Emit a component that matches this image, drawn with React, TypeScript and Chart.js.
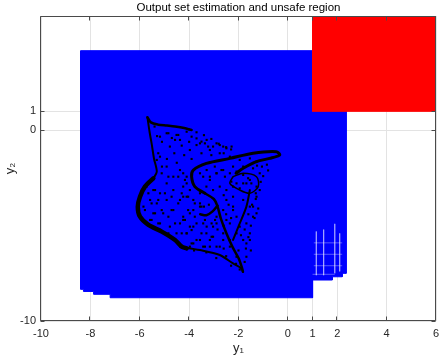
import React, { useEffect, useRef } from 'react';
import { Chart, registerables } from 'chart.js';

Chart.register(...registerables);

const FONT = "'Liberation Sans', Arial, Helvetica, sans-serif";

const titleText = 'Output set estimation and unsafe region';
const xLabel = 'y₁';
const yLabel = 'y₂';

const xTickValues = [-10, -8, -6, -4, -2, 0, 1, 2, 4, 6];
const yTickValues = [-10, 0, 1];

// Output set estimation (union of boxes) outline
const outputSetX = [-8.4, 2.36, 2.36, 2.2, 2.2, 1.8, 1.8, 1.0, 1.0, -7.2, -7.2, -7.87, -7.87, -8.28, -8.28, -8.4, -8.4];
const outputSetY = [4.18, 4.18, -7.5, -7.5, -7.68, -7.68, -7.85, -7.85, -8.78, -8.78, -8.6, -8.6, -8.45, -8.45, -8.34, -8.34, 4.18];

// Gaps between the boxes in the lower right part
const boxGapSegments: number[][][] = [
  [[1.15, -5.3], [1.15, -7.6]],
  [[1.45, -5.2], [1.45, -7.6]],
  [[1.9, -4.9], [1.9, -7.5]],
  [[2.1, -5.4], [2.1, -7.4]],
  [[1.05, -5.9], [2.2, -5.9]],
  [[1.05, -6.5], [2.2, -6.5]],
  [[1.05, -7.1], [2.2, -7.1]],
  [[1.0, -7.55], [1.9, -7.55]],
];

// Unsafe region
const unsafeX = [1, 6, 6, 1, 1];
const unsafeY = [1, 1, 6, 6, 1];

// Dense parts of the sampled output trajectories
const curveSpike = [[-5.69, 0.69], [-5.6, -0.1], [-5.52, -0.68], [-5.42, -1.5], [-5.31, -2.17], [-5.45, -2.52]];
const curveTopEdge = [[-5.69, 0.69], [-5.55, 0.42], [-5.25, 0.3], [-4.9, 0.25], [-4.57, 0.2], [-4.2, 0.12], [-3.9, 0.02]];
const curveLowerLeft = [[-5.45, -2.52], [-5.79, -2.95], [-5.99, -3.48], [-6.08, -4.0], [-5.99, -4.53], [-5.65, -4.96], [-5.11, -5.31], [-4.57, -5.75], [-4.3, -6.1], [-4.1, -6.19]];
const curveWing = [[-3.36, -3.3], [-3.77, -2.95], [-3.9, -2.43], [-3.83, -2.08], [-3.3, -1.73], [-2.35, -1.47], [-1.41, -1.2], [-0.47, -1.12], [-0.33, -1.29], [-0.74, -1.47], [-1.27, -1.64], [-1.81, -1.99], [-2.1, -2.25]];
const curveDiagonal = [[-3.36, -3.3], [-3.0, -3.6], [-2.86, -3.95], [-2.72, -4.6], [-2.49, -5.4], [-2.25, -6.1], [-2.0, -6.7], [-1.85, -7.25], [-1.82, -7.42]];
const curveCross = [[-1.54, -3.13], [-1.68, -4.0], [-1.95, -4.88], [-2.22, -5.75]];
const curveLoop = [[-2.22, -2.43], [-1.81, -2.25], [-1.27, -2.43], [-1.2, -2.95], [-1.54, -3.3], [-1.95, -3.13], [-2.35, -2.78], [-2.22, -2.43]];
const curveArc = [[-3.55, -4.4], [-3.3, -4.45], [-3.05, -4.25], [-2.85, -3.95]];
const curveBottom = [[-4.37, -6.1], [-3.56, -6.28], [-2.76, -6.54], [-2.22, -6.98], [-1.88, -7.24], [-1.82, -7.42]];

// Sparse samples
const sampleX = [
  -4.0, -3.7, -3.4, -3.1, -2.8, -2.5, -2.3,
  -4.91, -4.51, -4.10, -3.70, -3.29, -2.89, -2.62, -3.56, -4.37, -5.18, -4.78, -3.97, -3.16, -2.76, -2.35, -5.18, -4.91, -4.37, -4.64, -4.10,
  -1.95, -1.54, -1.27, -1.81, -1.41, -1.14, -2.08, -1.68, -1.27, -2.22, -1.81, -1.54, -1.27, -2.49, -2.76, -2.89, -3.16, -2.35,
  -5.72, -5.45, -5.18, -5.58, -5.31, -4.91, -5.85, -5.45, -5.05, -4.64, -5.58, -5.18, -4.78, -4.37, -4.85, -4.51, -4.10, -3.97, -4.24, -3.83, -4.37, -4.10, -4.64, -4.91, -4.24,
  -3.56, -3.70, -3.29, -3.03, -3.56, -3.83, -3.16, -2.76, -2.62, -2.89, -2.35, -2.08, -1.68, -1.68, -1.54, -1.95, -2.49, -2.22,
  -2.22, -2.08, -1.81, -1.61, -1.48, -2.29, -1.95, -2.55, -2.69, -2.96, -3.29, -3.56,
  -3.70, -3.36, -3.03, -2.76, -2.49, -2.28, -4.24, -4.10, -3.97, -4.24, -3.83, -3.56, -3.30, -3.03, -3.16, -3.43, -2.89, -2.62,
  -3.56, -3.97, -4.24, -3.83, -4.10, -3.70, -3.30, -3.03, -3.43, -2.89, -3.16, -3.97, -3.43, -2.89, -2.62, -2.35, -2.08, -1.81, -1.54,
  -1.68, -1.41, -1.41, -1.27, -1.14, -2.49, -2.22, -2.08, -2.35, -2.62, -1.81, -1.54, -2.22,
  -4.84, -4.44, -3.90, -3.50, -3.23, -4.57, -5.31, -5.25, -5.11, -4.84, -4.44, -4.17, -5.65, -5.38, -5.52, -5.25, -4.98, -4.71, -4.30, -4.04,
  -5.79, -5.38, -5.11, -4.71, -4.44, -4.04, -3.77, -3.50, -5.52, -5.25, -4.84, -4.57, -4.17, -3.77, -3.36, -4.84, -4.30, -3.90, -3.50, -3.09,
  -3.90, -3.36, -3.09,
  -1.30, -1.45, -1.20, -1.35, -1.60, -1.50, -1.75, -1.60, -1.90, -1.70, -1.50, -2.00, -1.75, -2.10, -1.95, -1.30, -1.10, -1.00, -1.05, -0.85, -0.80, -1.25,
  -5.40, -5.30, -5.10, -4.70, -4.30, -4.00, -3.50, -3.10, -2.60, -4.60, -4.90, -5.10, -4.50, -4.20, -3.90,
  -2.60, -2.40, -2.50, -2.30, -2.60, -2.85, -2.95, -3.20, -3.40,
  -3.80, -3.30, -2.90, -2.50, -2.30, -2.60,
];
const sampleY = [
  0.05, -0.10, -0.25, -0.45, -0.70, -0.88, -1.00,
  -0.15, -0.24, -0.07, -0.42, -0.50, -0.68, -0.85, -0.68, -0.50, -0.33, -0.85, -1.03, -1.03, -1.20, -1.38, -1.38, -1.90, -2.08, -2.43, -2.43,
  -1.55, -1.47, -1.64, -1.90, -1.99, -2.25, -2.78, -2.78, -2.95, -3.48, -3.65, -4.00, -4.35, -3.13, -2.95, -2.25, -2.43, -2.25,
  -2.95, -3.13, -3.30, -3.65, -3.83, -3.65, -4.00, -4.35, -4.35, -4.18, -4.70, -4.88, -5.05, -4.88, -5.50, -5.40, -5.40, -5.05, -4.53, -4.18, -3.65, -3.48, -3.13, -2.78, -2.95,
  -3.83, -4.88, -5.05, -5.58, -5.75, -5.93, -6.10, -6.10, -5.40, -4.88, -5.75, -6.63, -6.63, -5.93, -5.40, -5.05, -4.70, -4.18,
  -1.90, -2.16, -2.34, -2.51, -2.78, -2.69, -3.04, -2.43, -2.08, -1.90, -2.08, -2.25,
  -0.77, -0.68, -0.85, -0.77, -0.94, -0.85, -2.25, -2.78, -3.13, -3.48, -3.65, -3.30, -2.95, -3.13, -2.60, -2.43, -2.25, -2.08,
  -4.00, -4.35, -4.70, -5.05, -5.40, -5.75, -5.40, -5.05, -4.88, -4.53, -5.75, -6.10, -6.10, -6.10, -5.75, -6.10, -5.40, -5.75, -5.75,
  -4.88, -4.53, -4.00, -3.48, -3.13, -3.65, -4.00, -4.53, -4.88, -4.18, -2.78, -2.60, -2.95,
  -0.15, -0.24, -0.33, -0.59, -0.85, -0.50, -1.55, -1.20, -2.25, -2.43, -2.43, -2.60, -3.30, -3.13, -3.83, -3.65, -3.30, -3.48, -3.30, -3.48,
  -4.18, -4.35, -4.18, -4.18, -3.83, -4.18, -3.83, -4.00, -4.70, -4.88, -4.53, -4.88, -4.70, -4.53, -4.70, -5.40, -5.40, -5.23, -5.40, -4.88,
  -5.93, -6.10, -5.58,
  -3.60, -3.90, -4.10, -4.60, -4.40, -5.00, -5.20, -5.60, -5.50, -6.20, -6.30, -6.30, -6.90, -7.00, -7.30, -3.30, -2.70, -2.40, -1.90, -1.80, -2.10, -1.85,
  0.20, -0.30, -0.60, -0.40, -0.80, -0.60, -1.20, -1.30, -1.20, -1.20, -1.50, -1.90, -1.70, -1.30, -1.50,
  -3.40, -3.90, -4.40, -4.60, -5.00, -5.20, -4.70, -3.90, -4.00,
  -6.30, -6.40, -6.70, -6.60, -7.10, -6.20,
];

const toPoints = (xs: number[], ys: number[]) => xs.map((x, i) => ({ x, y: ys[i] }));
const pairs = (arr: number[][]) => arr.map(([x, y]) => ({ x, y }));

const framePlugin = {
  id: 'matlabFrame',
  afterDatasetsDraw(chart: any) {
    const { ctx, chartArea: a, scales } = chart;
    const xs = scales.x;
    const ys = scales.y;
    const L = Math.round(a.left) - 0.5;
    const R = Math.round(a.right) - 0.5;
    const T = Math.round(a.top) + 0.5;
    const B = Math.round(a.bottom) - 0.5;
    ctx.save();
    ctx.strokeStyle = '#4a4a4a';
    ctx.lineWidth = 1;
    ctx.beginPath();
    ctx.rect(L, T, R - L, B - T);
    const tl = 4;
    xTickValues.forEach((v) => {
      const px = Math.round(xs.getPixelForValue(v)) - 0.5;
      ctx.moveTo(px, B);
      ctx.lineTo(px, B - tl);
      ctx.moveTo(px, T);
      ctx.lineTo(px, T + tl);
    });
    yTickValues.forEach((v) => {
      const py = Math.round(ys.getPixelForValue(v)) + 0.5;
      ctx.moveTo(L, py);
      ctx.lineTo(L + tl, py);
      ctx.moveTo(R, py);
      ctx.lineTo(R - tl, py);
    });
    ctx.stroke();
    // title, centred over the axes
    ctx.fillStyle = '#000000';
    ctx.font = `11.5px ${FONT}`;
    ctx.textAlign = 'center';
    ctx.textBaseline = 'middle';
    ctx.fillText(titleText, (a.left + a.right) / 2, 8);
    ctx.restore();
  },
};

export default function App() {
  const canvasRef = useRef<HTMLCanvasElement | null>(null);

  useEffect(() => {
    if (!canvasRef.current) return;

    const curve = (pts: number[][], width: number, order: number) => ({
      data: pairs(pts),
      showLine: true,
      borderColor: '#000000',
      backgroundColor: '#000000',
      borderWidth: width,
      pointRadius: 0,
      tension: 0.3,
      fill: false,
      order,
      borderCapStyle: 'round',
      borderJoinStyle: 'round',
    });

    const datasets: any[] = [
      {
        data: toPoints(outputSetX, outputSetY),
        showLine: true,
        borderColor: '#0000ff',
        backgroundColor: '#0000ff',
        borderWidth: 1,
        pointRadius: 0,
        fill: 'shape',
        tension: 0,
        order: 10,
      },
      ...boxGapSegments.map((seg) => ({
        data: pairs(seg),
        showLine: true,
        borderColor: 'rgba(255,255,255,0.35)',
        borderWidth: 1,
        pointRadius: 0,
        fill: false,
        order: 9,
      })),
      {
        data: toPoints(unsafeX, unsafeY),
        showLine: true,
        borderColor: '#ff0000',
        backgroundColor: '#ff0000',
        borderWidth: 1,
        pointRadius: 0,
        fill: 'shape',
        tension: 0,
        order: 8,
      },
      curve(curveSpike, 2, 5),
      curve(curveTopEdge, 2.5, 5),
      curve(curveLowerLeft, 4.5, 5),
      curve(curveWing, 3, 5),
      curve(curveDiagonal, 2.5, 5),
      curve(curveCross, 2, 5),
      curve(curveLoop, 1.5, 5),
      curve(curveArc, 2.5, 5),
      curve(curveBottom, 2, 5),
      {
        data: toPoints(sampleX, sampleY),
        showLine: false,
        pointStyle: 'rect',
        pointRadius: 1.5,
        pointBorderWidth: 0,
        pointBackgroundColor: '#000000',
        order: 1,
      },
    ];

    const chart = new Chart(canvasRef.current, {
      type: 'scatter',
      data: { datasets },
      plugins: [framePlugin],
      options: {
        animation: false,
        responsive: false,
        maintainAspectRatio: false,
        events: [],
        layout: { padding: { left: 0, right: 5, top: 16, bottom: 0 } },
        plugins: {
          legend: { display: false },
          tooltip: { enabled: false },
          title: { display: false },
        },
        scales: {
          x: {
            type: 'linear',
            min: -10,
            max: 6,
            afterBuildTicks: (scale: any) => {
              scale.ticks = xTickValues.map((v) => ({ value: v }));
            },
            afterFit: (scale: any) => {
              scale.height = 38;
              scale.paddingLeft = 0;
              scale.paddingRight = 0;
            },
            ticks: {
              color: '#262626',
              font: { family: FONT, size: 11 },
              padding: 6,
              maxRotation: 0,
              autoSkip: false,
              callback: (v: any) => String(v),
            },
            grid: { color: '#e3e3e3', drawTicks: false },
            border: { display: false },
            title: {
              display: true,
              text: xLabel,
              color: '#262626',
              font: { family: FONT, size: 13 },
              padding: { top: 0, bottom: 3 },
            },
          },
          y: {
            type: 'linear',
            min: -10,
            max: 6,
            afterBuildTicks: (scale: any) => {
              scale.ticks = yTickValues.map((v) => ({ value: v }));
            },
            afterFit: (scale: any) => {
              scale.width = 41;
              scale.paddingTop = 0;
              scale.paddingBottom = 0;
            },
            ticks: {
              color: '#262626',
              font: { family: FONT, size: 11 },
              padding: 5,
              autoSkip: false,
              callback: (v: any) => String(v),
            },
            grid: { color: '#e3e3e3', drawTicks: false },
            border: { display: false },
            title: {
              display: true,
              text: yLabel,
              color: '#262626',
              font: { family: FONT, size: 13 },
              padding: { top: 3, bottom: 0 },
            },
          },
        },
      } as any,
    });

    return () => chart.destroy();
  }, []);

  return (
    <div style={{ position: 'absolute', left: 0, top: 0, width: 441, height: 359, background: '#ffffff' }}>
      <canvas ref={canvasRef} width={441} height={359} style={{ display: 'block' }} />
    </div>
  );
}
